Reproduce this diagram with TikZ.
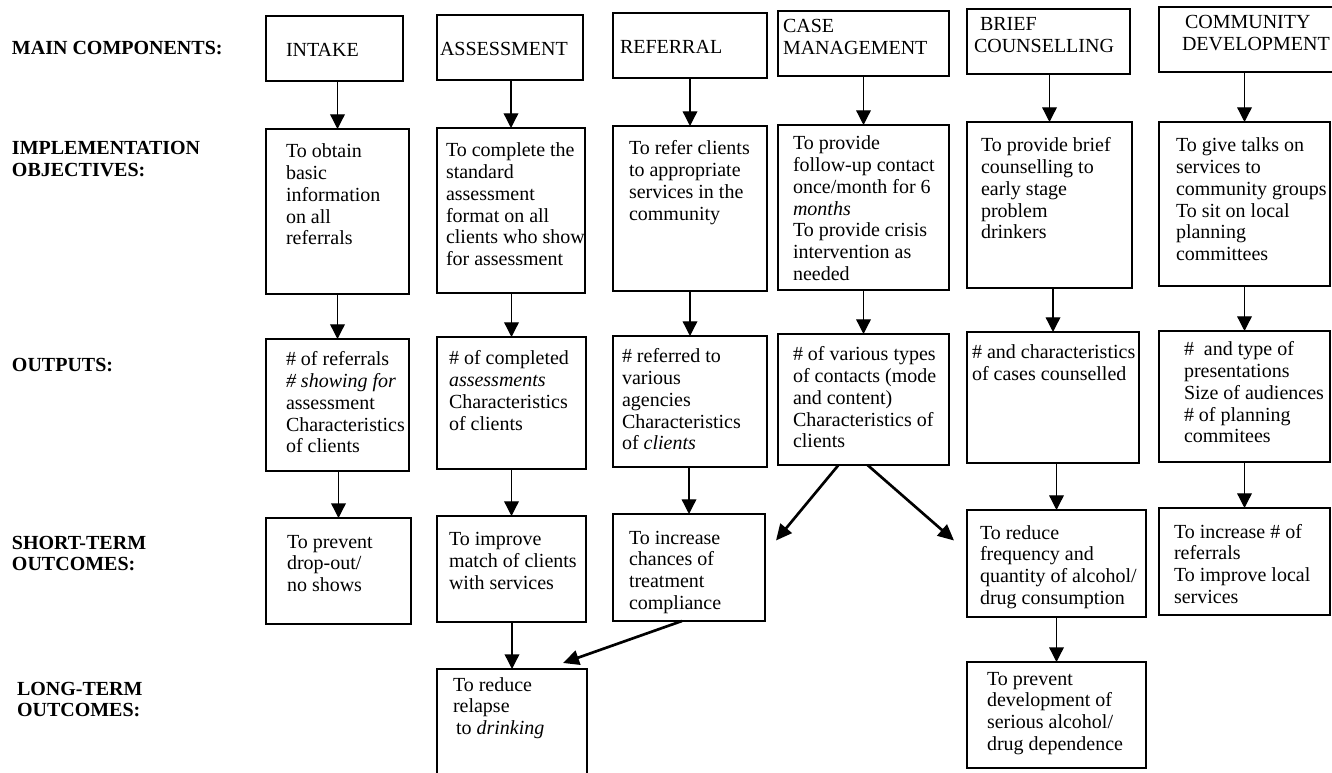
\documentclass[tikz,border=0pt]{standalone}
\usepackage{fontspec}
\setmainfont{Liberation Serif}
\usetikzlibrary{arrows.meta,calc}

% one drawing unit = one pixel of the 1332 x 773 sheet
\newdimen\pxu \pxu=0.75pt
\newcommand{\ind}[1]{\hspace*{\dimexpr\pxu*#1\relax}}

\tikzset{
  frame/.style={draw, line width=1.1pt, inner sep=0pt, outer sep=0pt,
    anchor=north west, font=\fontsize{15}{16.3}\selectfont},
  lab/.style={inner sep=0pt, outer sep=0pt, anchor=base west,
    font=\fontsize{15}{16.3}\selectfont\bfseries},
  arr/.style={line width=1pt, -{Triangle[length=11pt,width=11pt]}},
  heavyarr/.style={line width=2pt, -{Triangle[length=12pt,width=11pt]}},
}

% \bx{name}{left}{top}{right}{bottom}{text left}{first baseline}{lines}
\newcommand{\bx}[8]{%
  \node[frame, text height={(#7-#3)*0.75pt}, text depth={(#5-#7)*0.75pt}] (#1) at (#2,#3)
    {\makebox[\dimexpr\pxu*\numexpr#4-#2\relax\relax][l]{\hspace*{\dimexpr\pxu*\numexpr#6-#2\relax\relax}%
      \begin{tabular}[t]{@{}l@{}}#8\end{tabular}}};}

\begin{document}
\begin{tikzpicture}[x=0.75pt, y=-0.75pt]
\useasboundingbox (0,0) rectangle (1332,773);
\clip (0,0) rectangle (1332,773);
\fill[white] (0,0) rectangle (1332,773);

% row headings
\node[lab] (hmain) at (12,55) {MAIN COMPONENTS:};
\node[lab] (himpl) at (12,155) {\begin{tabular}[t]{@{}l@{}}IMPLEMENTATION\\OBJECTIVES:\end{tabular}};
\node[lab] (hout) at (12,372) {OUTPUTS:};
\node[lab] (hshort) at (12,549) {\begin{tabular}[t]{@{}l@{}}SHORT-TERM\\OUTCOMES:\end{tabular}};
\node[lab] (hlong) at (17,695) {\begin{tabular}[t]{@{}l@{}}LONG-TERM\\OUTCOMES:\end{tabular}};

% main components
\bx{m1}{266}{16}{403}{81}{286}{57}{INTAKE}
\bx{m2}{437}{15}{583}{80}{440}{56}{ASSESSMENT}
\bx{m3}{613}{13}{767}{78}{620}{54}{REFERRAL}
\bx{m4}{778}{11}{949}{76}{783}{33}{CASE\\MANAGEMENT}
\bx{m5}{967}{9}{1130}{74}{974}{31}{\ind{6}BRIEF\\COUNSELLING}
\bx{m6}{1159}{7}{1345}{72}{1182}{29}{\ind{3}COMMUNITY\\DEVELOPMENT}

% implementation objectives
\bx{o1}{266}{129}{409}{294}{286}{158}{To obtain\\basic\\information\\on all\\referrals}
\bx{o2}{437}{128}{585}{293}{446}{157}{To complete the\\standard\\assessment\\format on all\\clients who show\\for assessment}
\bx{o3}{613}{126}{767}{291}{629}{155}{To refer clients\\to appropriate\\services in the\\community}
\bx{o4}{778}{125}{949}{290}{793}{150}{To provide\\follow-up contact\\once/month for 6\\\textit{months}\\To provide crisis\\intervention as\\needed}
\bx{o5}{967}{122}{1132}{288}{981}{152}{To provide brief\\counselling to\\early stage\\problem\\drinkers}
\bx{o6}{1159}{122}{1330}{286}{1176}{152}{To give talks on\\services to\\community groups\\To sit on local\\planning\\committees}

% outputs
\bx{u1}{266}{339}{409}{471}{286}{366}{\# of referrals\\\textit{\# showing for}\\assessment\\Characteristics\\of clients}
\bx{u2}{437}{337}{586}{469}{449}{365}{\# of completed\\\textit{assessments}\\Characteristics\\of clients}
\bx{u3}{613}{336}{767}{467}{622}{363}{\# referred to\\various\\agencies\\Characteristics\\of \textit{clients}}
\bx{u4}{778}{334}{949}{465}{793}{361}{\# of various types\\of contacts (mode\\and content)\\Characteristics of\\clients}
\bx{u5}{967}{332}{1139}{463}{972}{359}{\# and characteristics\\of cases counselled}
\bx{u6}{1159}{331}{1330}{462}{1184}{356}{\#\ \ and type of\\presentations\\Size of audiences\\\# of planning\\commitees}

% short-term outcomes
\bx{s1}{266}{518}{411}{624}{287}{548}{To prevent\\drop-out/\\no shows}
\bx{s2}{437}{516}{586}{622}{449}{546}{To improve\\match of clients\\with services}
\bx{s3}{613}{514}{765}{621}{629}{544}{To increase\\chances of\\treatment\\compliance}
\bx{s5}{967}{510}{1146}{617}{980}{539}{To reduce\\frequency and\\quantity of alcohol/\\drug consumption}
\bx{s6}{1159}{508}{1330}{615}{1174}{538}{To increase \# of\\referrals\\To improve local\\services}

% long-term outcomes
\bx{l2}{437}{669}{587}{790}{453}{691}{To reduce\\relapse\\\ind{3}to \textit{drinking}}
\bx{l5}{967}{662}{1146}{768}{987}{685}{To prevent\\development of\\serious alcohol/\\drug dependence}

% straight links down each column
\foreach \a/\b in {m1/o1,m2/o2,m3/o3,m4/o4,m5/o5,m6/o6,
                   o1/u1,o2/u2,o3/u3,o4/u4,o5/u5,o6/u6,
                   u1/s1,u2/s2,u3/s3,u5/s5,u6/s6,
                   s2/l2,s5/l5}
  \draw[arr] (\a.south -| \b.north) -- (\b.north);

% slanted links
\coordinate (caseL) at ($(u4.south)+(-25,0)$);
\coordinate (caseR) at ($(u4.south)+(4,0)$);
\coordinate (tipL) at ($(s3.east)+(11,-27)$);
\coordinate (tipR) at ($(s5.west)+(-13,-23)$);
\coordinate (complA) at ($(s3.south)+(-7,0)$);
\coordinate (tipRel) at ($(l2.north east)+(-24,-6)$);
\draw[heavyarr] (caseL) -- (tipL);
\draw[heavyarr] (caseR) -- (tipR);
\draw[heavyarr] (complA) -- (tipRel);
\end{tikzpicture}
\end{document}
